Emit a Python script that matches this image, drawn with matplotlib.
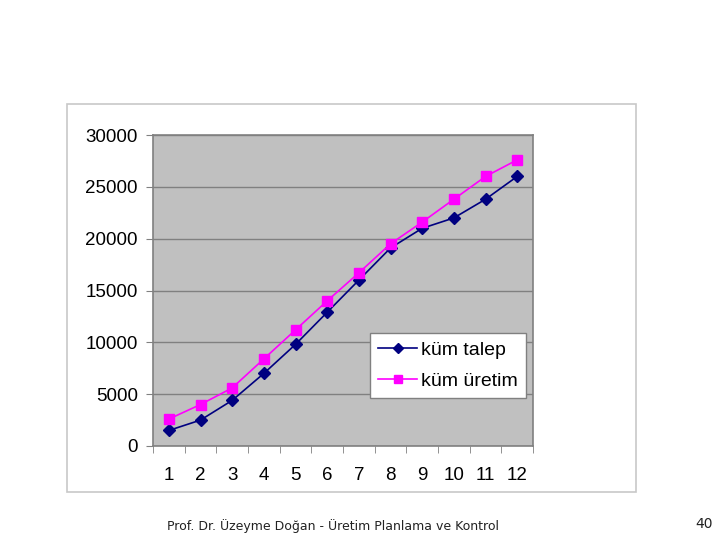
import numpy as np
import matplotlib.pyplot as plt
import matplotlib as mpl
from matplotlib.patches import Rectangle

mpl.rcParams['font.family'] = ['Liberation Sans', 'DejaVu Sans']

months = np.arange(1, 13)
kum_talep = [1500, 2500, 4400, 7000, 9800, 12900, 16000, 19100, 21000, 22000, 23800, 26000]
kum_uretim = [2600, 4000, 5600, 8400, 11200, 14000, 16700, 19500, 21600, 23800, 26000, 27600]
y_ticks = [0, 5000, 10000, 15000, 20000, 25000, 30000]

W, H = 720, 540
fig = plt.figure(figsize=(7.2, 5.4), dpi=100)

# chart area box (behind the axes)
fig.patches.append(Rectangle((67 / W, 1 - 492 / H), (636 - 67) / W, (492 - 104) / H,
                             transform=fig.transFigure, facecolor='white',
                             edgecolor='#c8c8c8', linewidth=1.2, zorder=-5))

ax = fig.add_axes([153 / W, 1 - 446 / H, (533 - 153) / W, (446 - 135) / H])
ax.set_zorder(2)
ax.set_facecolor('#c0c0c0')
for s in ax.spines.values():
    s.set_color('#808080')
    s.set_linewidth(1.2)

ax.plot(months, kum_talep, color='#000080', marker='D', markersize=6.5, linewidth=1.2,
        label='küm talep')
ax.plot(months, kum_uretim, color='#ff00ff', marker='s', markersize=7, linewidth=1.2,
        label='küm üretim')

ax.set_xlim(0.5, 12.5)
ax.set_ylim(0, 30000)
ax.set_yticks(y_ticks)
ax.set_yticklabels([str(v) for v in y_ticks])
ax.yaxis.grid(True, color='#808080', linewidth=1)
ax.set_axisbelow(True)
ax.set_xticks(months)
ax.set_xticklabels([str(m) for m in months])
ax.set_xticks(np.arange(0.5, 13, 1), minor=True)
ax.tick_params(axis='x', which='major', length=0, pad=15, labelsize=13.5)
ax.tick_params(axis='x', which='minor', length=5, color='#808080')
ax.tick_params(axis='y', length=5, color='#808080', pad=6, labelsize=13.5)

leg = ax.legend(loc='lower right', bbox_to_anchor=(0.982, 0.154), borderaxespad=0,
                fontsize=14, frameon=True, fancybox=False, handlelength=2.0,
                borderpad=0.42, labelspacing=0.7, handletextpad=0.2, markerscale=0.85)
leg.get_frame().set_edgecolor('#808080')
leg.get_frame().set_facecolor('white')
leg.get_frame().set_alpha(1)

fig.text(333 / W, 1 - 526 / H, 'Prof. Dr. Üzeyme Doğan - Üretim Planlama ve Kontrol',
         ha='center', va='center', fontsize=9, color='#222222',
         family=['DejaVu Sans'])
fig.text(704 / W, 1 - 524 / H, '40', ha='center', va='center', fontsize=10,
         color='#222222', family=['DejaVu Sans'])

fig.savefig('out.png', dpi=100)
